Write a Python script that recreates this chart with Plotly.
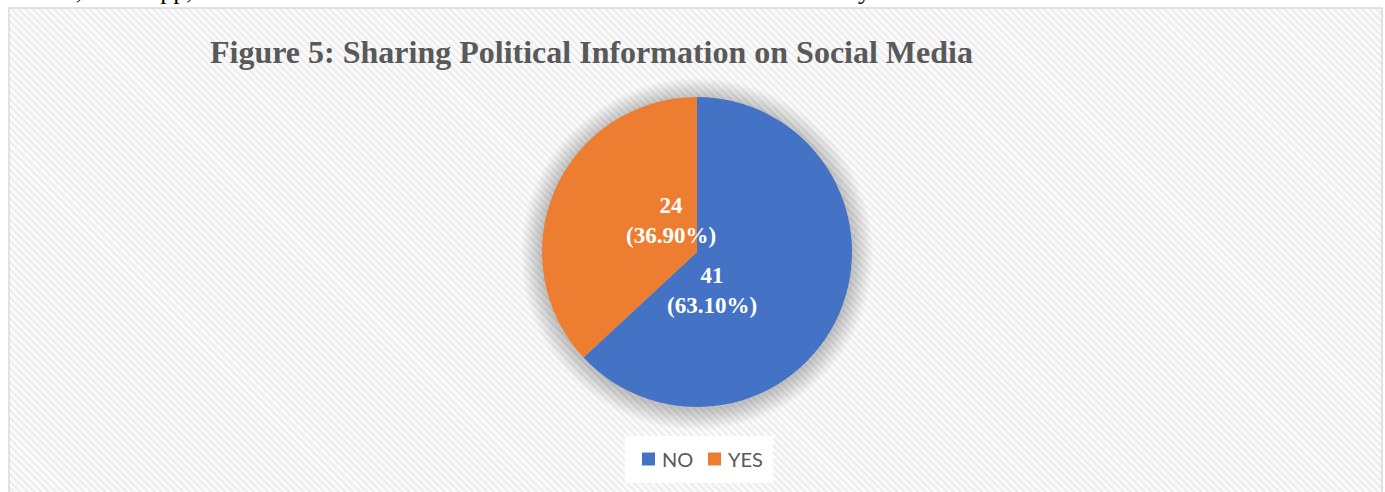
import math
import base64
import plotly.graph_objects as go

# Survey responses: sharing political information on social media
categories = ["NO", "YES"]
counts = [41, 24]
percent_labels = [63.10, 36.90]
slice_colors = ["#4472C4", "#ED7D31"]

title_text = "Figure 5: Sharing Political Information on Social Media"
body_words = [
    ("Twitter,Whatsapp,", 0),
    ("and", 268),
    ("Youtube.", 398),
    ("In", 580),
    ("subscribe to any news channel on social media.", 700),
]

W, H = 1385, 492

# chart frame (pixels)
frame_x0, frame_y0, frame_x1, frame_y1 = 9, 8, 1382, 500

# pie geometry (pixels)
pie_cx, pie_cy, pie_r = 697, 252, 155


def px_x(v):
    return v / W


def px_y(v):
    return 1 - v / H


# diagonal hatch background as an inline SVG
fw, fh = frame_x1 - frame_x0, frame_y1 - frame_y0
svg = (
    f"<svg xmlns='http://www.w3.org/2000/svg' width='{fw}' height='{fh}'>"
    "<defs><pattern id='p' width='5' height='5' patternUnits='userSpaceOnUse' "
    "patternTransform='rotate(-45)'>"
    "<rect width='5' height='5' fill='#fbfbfb'/>"
    "<rect width='2' height='5' fill='#ececec'/></pattern></defs>"
    f"<rect width='{fw}' height='{fh}' fill='url(#p)'/></svg>"
)
svg_uri = "data:image/svg+xml;base64," + base64.b64encode(svg.encode()).decode()

fig = go.Figure()

fig.add_trace(
    go.Pie(
        labels=categories,
        values=counts,
        marker=dict(colors=slice_colors, line=dict(width=0)),
        sort=False,
        direction="clockwise",
        rotation=0,
        textinfo="none",
        hoverinfo="label+value",
        showlegend=False,
        domain=dict(
            x=[px_x(pie_cx - pie_r), px_x(pie_cx + pie_r)],
            y=[px_y(pie_cy + pie_r), px_y(pie_cy - pie_r)],
        ),
    )
)

shapes = []
# soft shadow behind the pie
for i in range(14, 0, -1):
    rr = pie_r + i * 1.5
    shapes.append(
        dict(
            type="circle",
            xref="paper", yref="paper",
            xsizemode="pixel", ysizemode="pixel",
            xanchor=px_x(pie_cx), yanchor=px_y(pie_cy + 2),
            x0=-rr, x1=rr, y0=-rr, y1=rr,
            fillcolor="rgba(0,0,0,0.014)",
            line=dict(width=0),
            layer="below",
        )
    )
# chart frame border
shapes.append(
    dict(
        type="rect", xref="paper", yref="paper",
        x0=px_x(frame_x0), x1=px_x(frame_x1),
        y0=px_y(frame_y1), y1=px_y(frame_y0),
        line=dict(color="#d9d9d9", width=1.5),
        fillcolor="rgba(0,0,0,0)",
        layer="above",
    )
)

annotations = [
    dict(
        text=f"<b>{title_text}</b>",
        xref="paper", yref="paper",
        x=px_x(591.5), y=px_y(52),
        xanchor="center", yanchor="middle",
        showarrow=False,
        font=dict(family="Liberation Serif", size=32, color="#595959"),
    )
]

# data labels: value and share, placed inside each slice
total = sum(counts)
start = 0.0
for cat, val, pct in zip(categories, counts, percent_labels):
    span = 360.0 * val / total
    ang = math.radians(start + 0.7 * span)  # clockwise from 12 o'clock
    dist = 0.265 * pie_r
    lx = pie_cx + dist * math.sin(ang)
    ly = pie_cy - dist * math.cos(ang)
    annotations.append(
        dict(
            text=f"<b>{val}<br>({pct:.2f}%)</b>",
            xref="paper", yref="paper",
            x=px_x(lx), y=px_y(ly),
            xanchor="center", yanchor="middle",
            showarrow=False,
            align="center",
            font=dict(family="Liberation Serif", size=23, color="white"),
        )
    )
    start += span

# running text of the page above the chart
for word, x0 in body_words:
    annotations.append(
        dict(
            text=word,
            xref="paper", yref="paper",
            x=px_x(x0), y=px_y(-9),
            xanchor="left", yanchor="middle",
            showarrow=False,
            font=dict(family="Liberation Serif", size=26, color="#000000"),
        )
    )

# legend box with one swatch per category
leg_x0, leg_y0, leg_x1, leg_y1 = 625, 436, 773, 483
leg_cy = 459
sw = 13
item_x = [642, 708]
shapes.append(
    dict(
        type="rect", xref="paper", yref="paper",
        x0=px_x(leg_x0), x1=px_x(leg_x1),
        y0=px_y(leg_y1), y1=px_y(leg_y0),
        fillcolor="white", line=dict(width=0),
        layer="below",
    )
)
for cat, col, ix in zip(categories, slice_colors, item_x):
    shapes.append(
        dict(
            type="rect", xref="paper", yref="paper",
            x0=px_x(ix), x1=px_x(ix + sw),
            y0=px_y(leg_cy + sw / 2), y1=px_y(leg_cy - sw / 2),
            fillcolor=col, line=dict(width=0),
        )
    )
    annotations.append(
        dict(
            text=cat,
            xref="paper", yref="paper",
            x=px_x(ix + sw + 5), y=px_y(leg_cy),
            xanchor="left", yanchor="middle",
            showarrow=False,
            font=dict(family="Lato", size=20, color="#595959"),
        )
    )

fig.update_layout(
    width=W, height=H,
    margin=dict(l=0, r=0, t=0, b=0),
    paper_bgcolor="white",
    plot_bgcolor="white",
    shapes=shapes,
    annotations=annotations,
    images=[
        dict(
            source=svg_uri,
            xref="paper", yref="paper",
            x=px_x(frame_x0), y=px_y(frame_y0),
            sizex=fw / W, sizey=fh / H,
            xanchor="left", yanchor="top",
            sizing="stretch",
            layer="below",
        )
    ],
    showlegend=False,
)

fig.write_html("out.html")
